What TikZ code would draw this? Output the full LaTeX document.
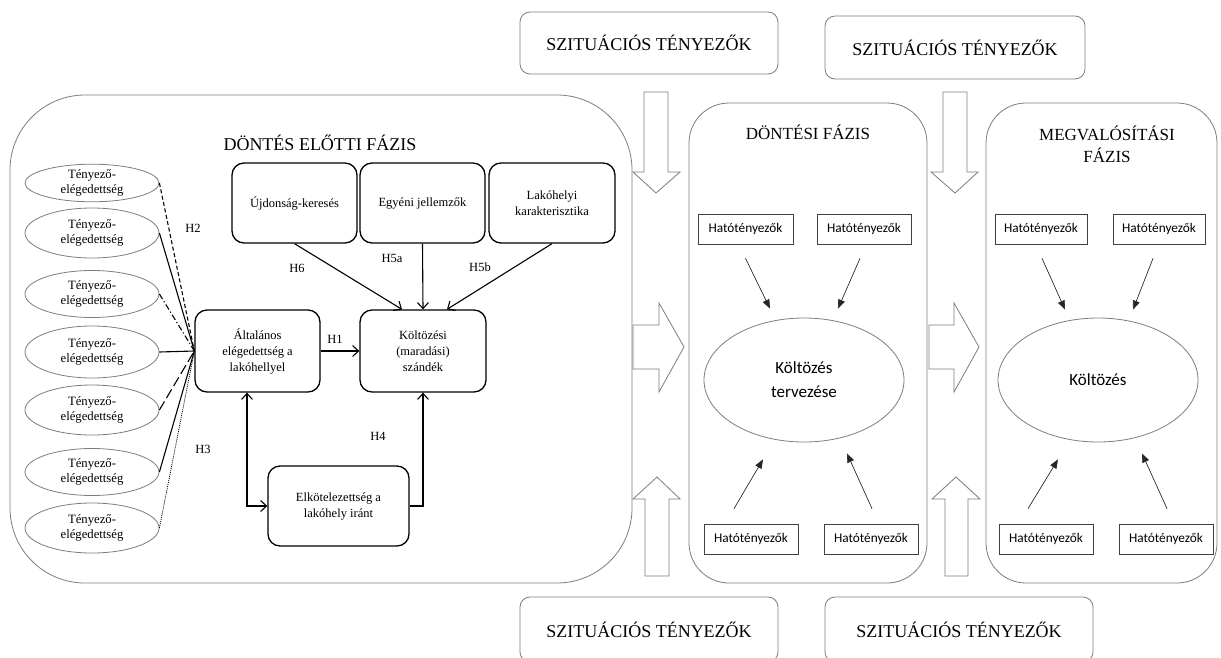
\documentclass[tikz,border=0pt]{standalone}
\usepackage{fontspec}
\setmainfont{Liberation Serif}
\newfontfamily\calib{Carlito}
\usetikzlibrary{calc,shapes.geometric,arrows.meta}
\definecolor{gry}{RGB}{125,125,125}
\begin{document}
\begin{tikzpicture}[x=1pt,y=-1pt,
  panel/.style={draw=gry, line width=0.8pt, inner sep=0pt},
  ttl/.style={font=\fontsize{17}{21}\selectfont, align=center},
  fbox/.style={draw=black, line width=1.3pt, rounded corners=12pt, align=center,
    font=\fontsize{12.5}{16}\selectfont, inner sep=0pt},
  tell/.style={ellipse, draw=gry, line width=0.8pt, minimum width=134pt, inner sep=0pt,
    align=center, font=\fontsize{12.7}{15}\selectfont},
  lbl/.style={font=\fontsize{12.5}{15}\selectfont},
  hato/.style={draw=black!75, line width=0.7pt, minimum width=94pt, minimum height=30pt,
    inner sep=0pt, font=\calib\fontsize{13.3}{15}\selectfont},
  bigell/.style={ellipse, draw=gry, line width=0.8pt, minimum width=200pt, minimum height=124pt,
    inner sep=0pt, align=center, font=\calib\fontsize{17}{24}\selectfont},
  arrv/.style={-{Straight Barb[length=6pt,width=11pt]}, line width=1.1pt},
  arrvv/.style={{Straight Barb[length=6pt,width=11pt]}-{Straight Barb[length=6pt,width=11pt]}, line width=1.1pt},
  arrt/.style={-{Triangle[length=9pt,width=7pt]}, line width=0.6pt, draw=black!85, fill=black},
  blk/.style={draw=gry, line width=0.8pt, fill=white},
  sit/.style={draw=gry, line width=0.8pt, rounded corners=10pt, inner sep=0pt,
    font=\fontsize{18}{22}\selectfont},
  ln/.style={line width=1.1pt}
]
\useasboundingbox (0,0) rectangle (1221,657);
\fill[white] (0,0) rectangle (1221,657);

% situational boxes
\node[sit, minimum width=258pt, minimum height=62pt] (s1) at (649,43) {SZITUÁCIÓS TÉNYEZŐK};
\node[sit, minimum width=260pt, minimum height=63pt] (s2) at (955,47.5) {SZITUÁCIÓS TÉNYEZŐK};
\node[sit, minimum width=258pt, minimum height=65pt] (s3) at (649,629.5) {SZITUÁCIÓS TÉNYEZŐK};
\node[sit, minimum width=268pt, minimum height=65pt] (s4) at (959,629.5) {SZITUÁCIÓS TÉNYEZŐK};

% panels
\node[panel, rounded corners=75pt, minimum width=622pt, minimum height=488pt] (lp) at (321,339) {};
\node[panel, rounded corners=40pt, minimum width=238pt, minimum height=480pt] (dp) at (808,343) {};
\node[panel, rounded corners=40pt, minimum width=231pt, minimum height=480pt] (mp) at (1101.5,343) {};

\node[ttl, font=\fontsize{18}{21}\selectfont] (lpt) at (320,143) {DÖNTÉS ELŐTTI FÁZIS};
\node[ttl] (dpt) at (808,132) {DÖNTÉSI FÁZIS};
\node[ttl, font=\fontsize{17}{22}\selectfont] (mpt) at (1107,144) {MEGVALÓSÍTÁSI\\FÁZIS};

% block arrows
\draw[blk] (644,92) -- (668,92) -- (668,172) -- (680,172) -- (656,193) -- (633,172) -- (644,172) -- cycle;
\draw[blk] (943,92) -- (967,92) -- (967,172) -- (978,172) -- (955,193) -- (931,172) -- (943,172) -- cycle;
\draw[blk] (633,325) -- (659,325) -- (659,303) -- (684,347) -- (659,392) -- (659,369) -- (633,369) -- cycle;
\draw[blk] (929,325) -- (954,325) -- (954,303) -- (979,347) -- (954,392) -- (954,369) -- (929,369) -- cycle;
\draw[blk] (645,576) -- (645,499) -- (633,499) -- (657,477) -- (680,499) -- (669,499) -- (669,576) -- cycle;
\draw[blk] (945,576) -- (945,499) -- (932,499) -- (956,477) -- (980,499) -- (968,499) -- (968,576) -- cycle;

% left ellipses
\node[tell, minimum height=35pt] (e1) at (92,183) {Tényező-\\elégedettség};
\node[tell, minimum height=50pt] (e2) at (92,233) {Tényező-\\elégedettség};
\node[tell, minimum height=47pt] (e3) at (92,294) {Tényező-\\elégedettség};
\node[tell, minimum height=52pt] (e4) at (92,352) {Tényező-\\elégedettség};
\node[tell, minimum height=50pt] (e5) at (92,410) {Tényező-\\elégedettség};
\node[tell, minimum height=47pt] (e6) at (92,472) {Tényező-\\elégedettség};
\node[tell, minimum height=50pt] (e7) at (92,528) {Tényező-\\elégedettség};

% inner boxes
\node[fbox, minimum width=125pt, minimum height=80pt] (ujd) at (294.5,203) {Újdonság-keresés};
\node[fbox, minimum width=125pt, minimum height=80pt] (egy) at (422.5,203) {Egyéni jellemzők};
\node[fbox, minimum width=126pt, minimum height=80pt] (lak) at (552,203) {Lakóhelyi\\karakterisztika};
\node[fbox, minimum width=125pt, minimum height=82pt] (alt) at (257.5,351) {Általános\\elégedettség a\\lakóhellyel};
\node[fbox, minimum width=126pt, minimum height=82pt] (kol) at (423,351) {Költözési\\(maradási)\\szándék};
\node[fbox, minimum width=141pt, minimum height=80pt] (elk) at (338.5,506) {Elkötelezettség a\\lakóhely iránt};

% ellipse connectors
\draw[ln, dash pattern=on 4pt off 2.5pt] (e1.east) -- (alt.west);
\draw[ln] (e2.east) -- (alt.west);
\draw[ln, dash pattern=on 6pt off 2.5pt on 1.2pt off 2.5pt] (e3.east) -- (alt.west);
\draw[ln] (e4.east) -- (alt.west);
\draw[ln, dash pattern=on 10pt off 4pt] (e5.east) -- (alt.west);
\draw[ln] (e6.east) -- (alt.west);
\draw[line width=0.8pt, dash pattern=on 1pt off 1pt] (e7.east) -- (alt.west);

% arrows in left panel
\draw[arrv] (ujd.south) -- ($(kol.north)+(-21,0)$);
\draw[arrv] (egy.south) -- (kol.north);
\draw[arrv] (lak.south) -- ($(kol.north)+(24,0)$);
\draw[arrv] (alt.east) -- (kol.west);
\draw[arrvv] ($(alt.south)+(-10.5,0)$) |- (elk.west);
\draw[arrv] (elk.east) -| (kol.south);

% labels
\node[lbl] (h2) at (193,228) {H2};
\node[lbl] (h3) at (203,449) {H3};
\node[lbl] (h6) at (297,268) {H6};
\node[lbl] (h5a) at (392,258) {H5a};
\node[lbl] (h5b) at (480,267) {H5b};
\node[lbl] (h1) at (335,339) {H1};
\node[lbl] (h4) at (378,436) {H4};

% decision phase
\node[bigell] (ell1) at (804,380) {Költözés\\tervezése};
\node[hato, minimum width=95pt] (d1) at (745.5,229) {Hatótényezők};
\node[hato] (d2) at (864,229) {Hatótényezők};
\node[hato] (d3) at (751,539) {Hatótényezők};
\node[hato] (d4) at (871,539) {Hatótényezők};
\draw[arrt] ($(d1.south)+(0,14)$) -- ($(ell1.north)+(-34,-9)$);
\draw[arrt] ($(d2.south)+(-4,14)$) -- ($(ell1.north)+(34,-9)$);
\draw[arrt] ($(d3.north)+(-17,-15)$) -- ($(ell1.south)+(-41,17)$);
\draw[arrt] ($(d4.north)+(1,-15)$) -- ($(ell1.south)+(43,11)$);

% implementation phase
\node[bigell] (ell2) at (1098,380) {Költözés};
\node[hato, minimum width=92pt] (m1) at (1041,229) {Hatótényezők};
\node[hato, minimum width=92pt] (m2) at (1159,229) {Hatótényezők};
\node[hato] (m3) at (1046,539) {Hatótényezők};
\node[hato] (m4) at (1166,539) {Hatótényezők};
\draw[arrt] ($(m1.south)+(1,14)$) -- ($(ell2.north)+(-33,-8)$);
\draw[arrt] ($(m2.south)+(-6,14)$) -- ($(ell2.north)+(35,-8)$);
\draw[arrt] ($(m3.north)+(-18,-15)$) -- ($(ell2.south)+(-40,17)$);
\draw[arrt] ($(m4.north)+(1,-15)$) -- ($(ell2.south)+(44,11)$);
\end{tikzpicture}
\end{document}
